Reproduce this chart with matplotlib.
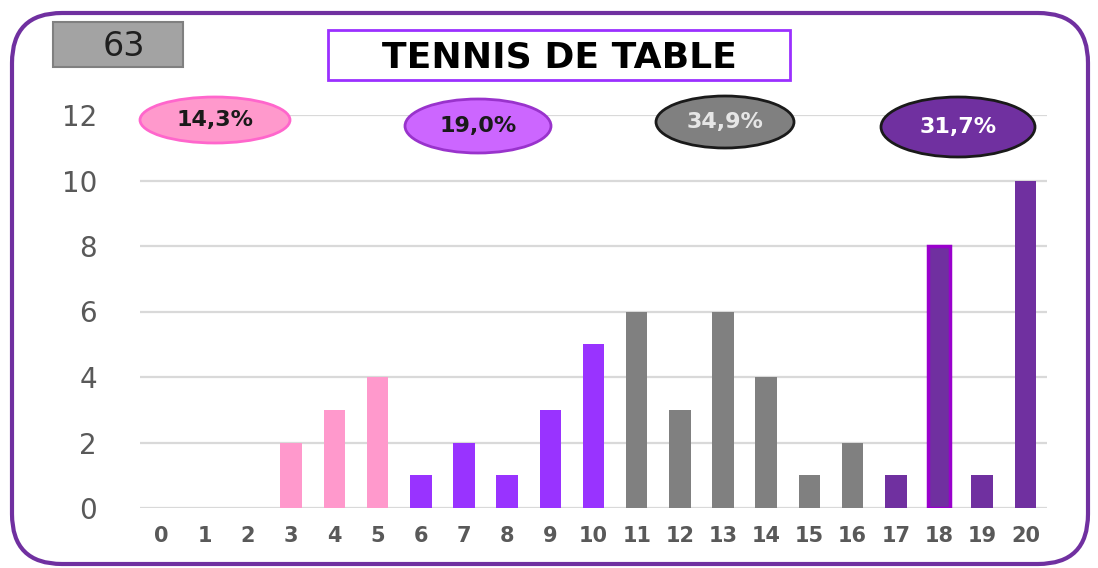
import matplotlib
matplotlib.use('Agg')
import matplotlib.pyplot as plt
from matplotlib.patches import Ellipse, FancyBboxPatch, Rectangle

categories = list(range(21))
counts = [0, 0, 0, 2, 3, 4, 1, 2, 1, 3, 5, 6, 3, 6, 4, 1, 2, 1, 8, 1, 10]
groups = [(0, 5), (6, 10), (11, 16), (17, 20)]
group_colors = ['#FF99CC', '#9933FF', '#808080', '#7030A0']
title = 'TENNIS DE TABLE'
yticks = [0, 2, 4, 6, 8, 10, 12]

total = sum(counts)
bar_colors = []
for c in categories:
    for (lo, hi), col in zip(groups, group_colors):
        if lo <= c <= hi:
            bar_colors.append(col)
edge_colors = list(bar_colors)
edge_colors[18] = '#9900CC'

fig = plt.figure(figsize=(10.98, 5.68), dpi=100)

ax = fig.add_axes([140 / 1098, 1 - 508 / 568, 907 / 1098, 393 / 568])
ax.patch.set_alpha(0)
ax.bar(categories, counts, width=0.5, color=bar_colors, edgecolor=edge_colors,
       linewidth=[2.5 if i == 18 else 0 for i in categories], zorder=3)
ax.set_xlim(-0.5, 20.5)
ax.set_ylim(0, 12)
ax.set_yticks(yticks)
ax.set_xticks(categories)
ax.grid(axis='y', color='#D9D9D9', linewidth=1.6, zorder=0)
ax.set_axisbelow(True)
for s in ax.spines.values():
    s.set_visible(False)
ax.tick_params(length=0)
ax.tick_params(axis='y', pad=31, labelsize=20, labelcolor='#595959')
ax.tick_params(axis='x', pad=13, labelsize=15, labelcolor='#595959')
for lab in ax.get_xticklabels():
    lab.set_fontweight('bold')

# overlay in pixel coordinates
ov = fig.add_axes([0, 0, 1, 1], zorder=5)
ov.set_xlim(0, 1098)
ov.set_ylim(568, 0)
ov.axis('off')
ov.patch.set_alpha(0)

ov.add_patch(FancyBboxPatch((12, 13), 1076, 551,
                            boxstyle='round,pad=0,rounding_size=50',
                            fill=False, edgecolor='#7030A0', linewidth=3))
ov.add_patch(Rectangle((53, 22), 130, 45, facecolor='#A3A3A3',
                       edgecolor='#808080', linewidth=1.5))
ov.text(124, 46, str(total), ha='center', va='center', fontsize=24,
        color='#1f1f1f')
ov.add_patch(Rectangle((328, 30), 462, 50, facecolor='white',
                       edgecolor='#9B30FF', linewidth=2))
ov.text(559, 57, title, ha='center', va='center', fontsize=26,
        fontweight='bold', color='black')

ell_specs = [
    # x, y, w, h, face, edge, text colour
    (215, 120, 150, 46, '#FF99CC', '#FF66CC', '#1a1a1a'),
    (478, 126, 146, 54, '#CC66FF', '#9933CC', '#1a1a1a'),
    (725, 122, 138, 52, '#808080', '#1a1a1a', '#E6E6E6'),
    (958, 127, 154, 60, '#7030A0', '#1a1a1a', 'white'),
]
for (lo, hi), (x, y, w, h, fc, ec, tc) in zip(groups, ell_specs):
    share = sum(counts[lo:hi + 1]) / total * 100
    ov.add_patch(Ellipse((x, y), w, h, facecolor=fc, edgecolor=ec, linewidth=2))
    ov.text(x, y, f'{share:.1f}%'.replace('.', ','), ha='center', va='center',
            fontsize=16, fontweight='bold', color=tc)

fig.savefig('out.png', dpi=100)
